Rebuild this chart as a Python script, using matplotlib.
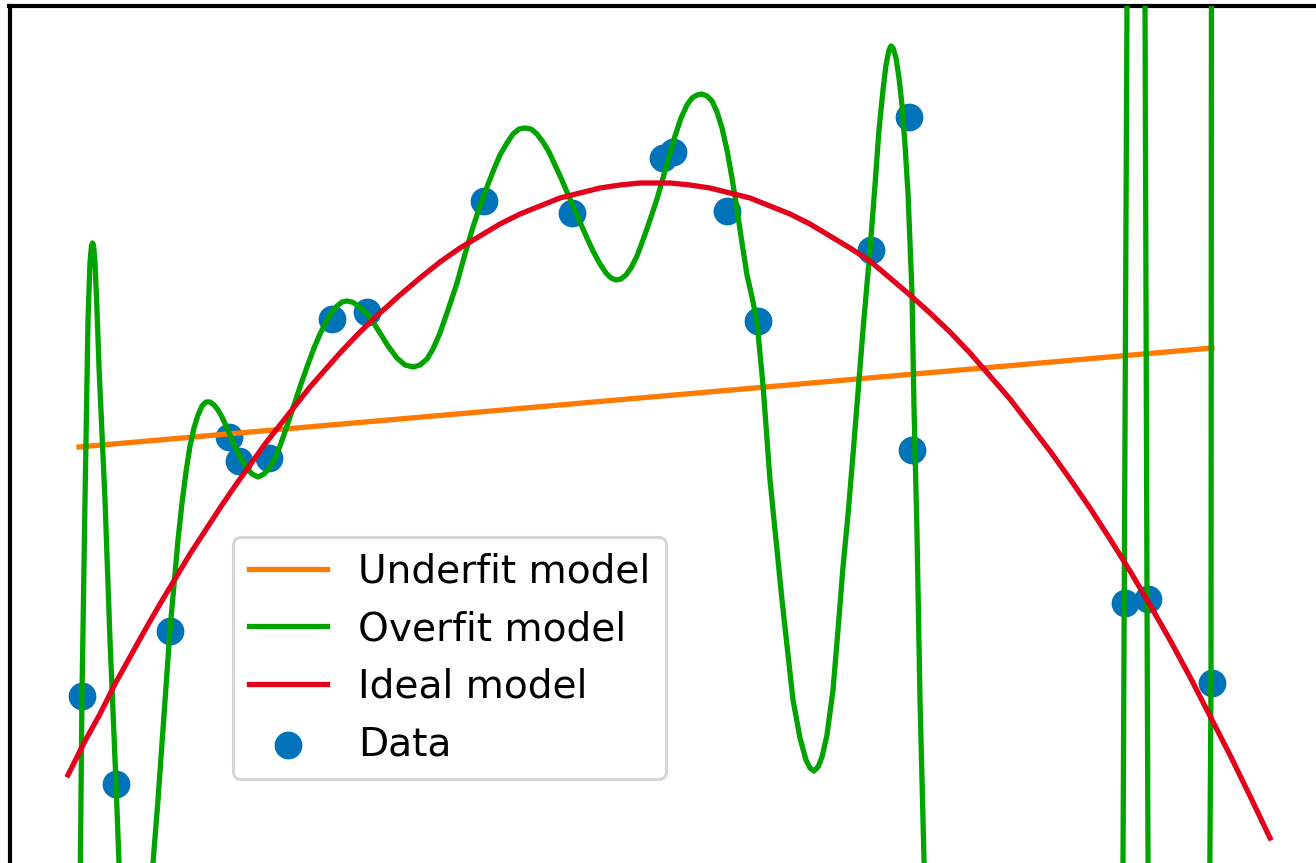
import matplotlib
matplotlib.use("Agg")
import matplotlib.pyplot as plt

data_x = [82, 116, 170, 229, 239, 269, 332, 367, 484, 572, 663, 673,
          727, 758, 871, 909, 912, 1125, 1148, 1212]
data_y = [696, 784, 631, 437, 461, 458, 319, 312, 201, 213, 158, 152,
          211, 321, 250, 117, 450, 603, 599, 683]

underfit_x = [79, 1212]
underfit_y = [447, 348]

ideal_x = [68, 85, 100, 115, 130, 145, 160, 175, 190, 205, 220, 235, 250,
           265, 280, 295, 310, 325, 340, 360, 380, 400, 420, 440, 460, 480,
           500, 520, 540, 560, 580, 600, 620, 640, 655, 670, 690, 710, 730,
           750, 770, 790, 810, 830, 850, 870, 890, 910, 930, 950, 970, 990,
           1010, 1030, 1050, 1070, 1090, 1110, 1130, 1150, 1170, 1190, 1210,
           1230, 1250, 1270]
ideal_y = [775, 741, 714, 684, 657, 630, 604, 579, 554, 531, 508, 486, 465,
           444, 425, 406, 387, 370, 353, 332, 313, 295, 278, 262, 248, 236,
           224, 214, 206, 198, 193, 188, 185, 183, 183, 183, 185, 188, 193,
           198, 206, 214, 224, 236, 248, 261, 278, 295, 313, 332, 353, 376,
           399, 425, 451, 479, 508, 539, 571, 605, 640, 677, 716, 755, 796,
           838]

overfit_x = [79.5, 82, 85, 88, 90, 91.5, 92.5, 93.5, 95, 97, 99, 105, 110,
             116, 119, 122, 136, 150, 153, 158, 162, 166, 170, 174, 178, 182,
             186, 190, 194, 198, 202, 206, 210, 214, 218, 222, 227, 233, 240,
             247, 252, 258, 264, 270, 275, 280, 287, 293, 300, 307, 314, 320,
             326, 332, 337, 342, 347, 352, 357, 362, 367, 373, 380, 388, 397,
             405, 413, 420, 427, 433, 440, 448, 457, 465, 473, 480, 487, 494,
             500, 507, 513, 519, 525, 531, 537, 543, 549, 555, 561, 567, 574,
             580, 587, 593, 600, 606, 611, 616, 621, 626, 631, 637, 643, 650,
             657, 663, 669, 675, 681, 687, 692, 697, 702, 707, 712, 717, 722,
             727, 732, 737, 742, 747, 752, 757, 763, 770, 782, 793, 800, 806,
             810, 814, 818, 822, 827, 833, 838, 843, 848, 852, 857, 863, 870,
             875, 879, 883, 886, 889, 891, 893, 896, 899, 902, 905, 908, 912,
             914, 917, 920, 924, 928, 1000, 1120, 1123, 1124.2, 1127, 1129,
             1143, 1145, 1147, 1148, 1150, 1209, 1211, 1211.5]
overfit_y = [950, 695, 500, 320, 262, 246, 243, 245, 262, 310, 367, 500, 640,
             783, 863, 940, 1100, 940, 863, 800, 743, 685, 630, 585, 540, 503,
             472, 446, 428, 415, 406, 402, 402, 405, 410, 417, 428, 442, 457,
             468, 474, 477, 474, 467, 458, 446, 426, 408, 387, 367, 348, 334,
             322, 312, 306, 302, 301, 302, 305, 309, 314, 322, 333, 346, 358,
             365, 367, 365, 359, 349, 333, 310, 283, 254, 227, 206, 187, 169,
             155, 143, 134, 129, 128, 129, 134, 142, 152, 165, 178, 192, 208,
             222, 238, 251, 264, 273, 278, 280, 279, 275, 268, 256, 240, 220,
             199, 178, 157, 136, 118, 105, 98, 95, 94, 96, 101, 112, 128, 150,
             178, 209, 243, 275, 297, 322, 385, 480, 600, 700, 738, 760, 768,
             771, 767, 757, 735, 690, 630, 567, 515, 467, 405, 330, 250, 185,
             130, 90, 65, 50, 46, 48, 58, 78, 105, 145, 193, 293, 407, 533, 700,
             860, 1000, 1200, 1000, 863, 603, 0, -150, -150, 0, 598, 863, 1000,
             1000, 683, -100]

c_orange = "#ff7a00"
c_green = "#00a300"
c_red = "#e3001b"
c_blue = "#0173b8"

W, H = 1316, 863
fig = plt.figure(figsize=(W / 100, H / 100), dpi=100)
# axes run past the right and bottom edges of the picture
left, top = 9.5, 6
right, bottom = 1.03 * W, H + 26
ax = fig.add_axes([left / W, 1 - bottom / H, (right - left) / W, (bottom - top) / H])

sc = ax.scatter(data_x, data_y, s=400, color=c_blue, linewidths=0, zorder=1)
l1, = ax.plot(underfit_x, underfit_y, color=c_orange, lw=3.8, zorder=2)
l2, = ax.plot(overfit_x, overfit_y, color=c_green, lw=3.8, zorder=3,
              solid_joinstyle="round")
l3, = ax.plot(ideal_x, ideal_y, color=c_red, lw=3.8, zorder=4,
              solid_joinstyle="round")

ax.set_xlim(left, right)
ax.set_ylim(bottom, top)
ax.set_xticks([])
ax.set_yticks([])
for s in ["right", "bottom"]:
    ax.spines[s].set_visible(False)
for s in ["left", "top"]:
    ax.spines[s].set_linewidth(3)

leg = ax.legend([l1, l2, l3, sc],
                ["Underfit model", "Overfit model", "Ideal model", "Data"],
                loc="lower left", bbox_to_anchor=(233 / W, 1 - 779 / H),
                bbox_transform=fig.transFigure, borderaxespad=0,
                fontsize=28.2)
leg.get_frame().set_linewidth(2.2)
leg.set_zorder(10)

fig.savefig("out.png", dpi=100)
